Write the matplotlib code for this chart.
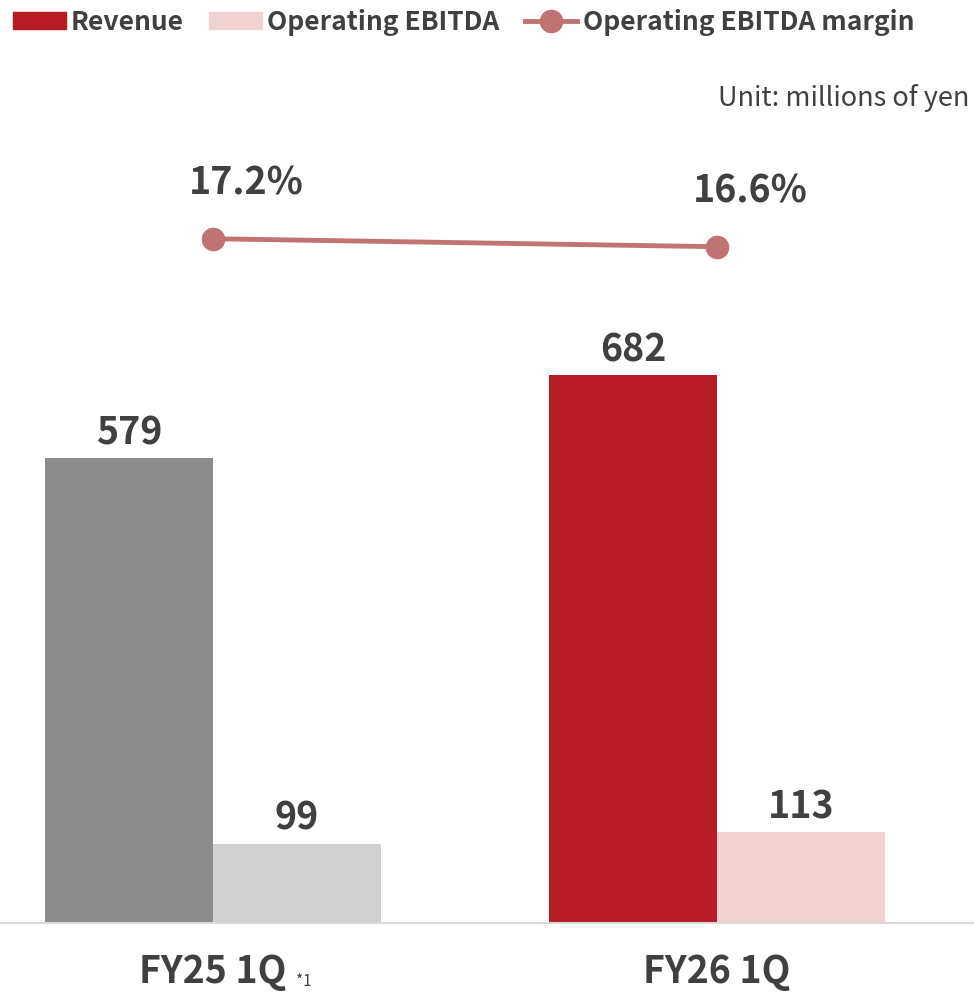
import matplotlib
matplotlib.use('Agg')
from matplotlib import pyplot as plt
from matplotlib.patches import Patch
from matplotlib.lines import Line2D

# data
periods = ['FY25 1Q', 'FY26 1Q']
revenue = [579, 682]
ebitda = [99, 113]
margin = [17.2, 16.6]

plt.rcParams['font.family'] = ['Noto Sans CJK JP', 'DejaVu Sans']
txt = '#404040'
rev_colors = ['#8c8c8c', '#b71c24']
ebt_colors = ['#d0d0d0', '#f0d2d3']
line_col = '#c07373'

fig = plt.figure(figsize=(9.74, 9.96), dpi=100)
ax = fig.add_axes([0, 73 / 996, 1, 863 / 996])

x = list(range(len(periods)))
w = 0.333
bars_r = ax.bar([i - w / 2 for i in x], revenue, width=w, color=rev_colors)
bars_e = ax.bar([i + w / 2 for i in x], ebitda, width=w, color=ebt_colors)

for b, v in zip(list(bars_r) + list(bars_e), revenue + ebitda):
    ax.annotate(str(v), (b.get_x() + b.get_width() / 2, v), xytext=(0, 4),
                textcoords='offset points', ha='center', va='bottom',
                fontsize=27, fontweight='bold', color=txt)

ax.set_xlim(-213 / 504, (974 - 213) / 504)
ax.set_ylim(0, 1075)
for s in ['top', 'left', 'right']:
    ax.spines[s].set_visible(False)
ax.spines['bottom'].set_color('#d9d9d9')
ax.spines['bottom'].set_linewidth(1.5)
ax.set_yticks([])
ax.set_xticks([])

for i, p in enumerate(periods):
    ax.annotate(p, (i, 0), xycoords=('data', 'axes fraction'), xytext=(0, -35),
                textcoords='offset points', ha='center', va='center',
                fontsize=27, fontweight='bold', color=txt)
ax.annotate('*1', (0, 0), xycoords=('data', 'axes fraction'), xytext=(60, -42),
            textcoords='offset points', ha='left', va='center',
            fontsize=11, color=txt)

# margin line on a second axis
ax2 = ax.twinx()
ax2.plot(x, margin, color=line_col, lw=3.5, marker='o', markersize=16)
for i, m in zip(x, margin):
    ax2.annotate(f'{m:.1f}%', (i, m), xytext=(24, 26), textcoords='offset points',
                 ha='center', va='bottom', fontsize=27, fontweight='bold', color=txt)
ax2.set_ylim(-34.1, 30.6)
ax2.set_yticks([])
for s in ['top', 'left', 'right', 'bottom']:
    ax2.spines[s].set_visible(False)

fig.text(969 / 974, 1 - 98 / 996, 'Unit: millions of yen', ha='right', va='center',
         fontsize=19.5, color=txt)

handles = [Patch(color=rev_colors[1]), Patch(color=ebt_colors[1]),
           Line2D([], [], color=line_col, lw=3.5, marker='o', markersize=16)]
fig.legend(handles, ['Revenue', 'Operating EBITDA', 'Operating EBITDA margin'],
           loc='upper left', bbox_to_anchor=(13 / 974, 1 - 9 / 996), ncol=3,
           frameon=False, handlelength=2.0, handleheight=0.6,
           handletextpad=0.2, columnspacing=0.95, borderpad=0, borderaxespad=0,
           prop={'weight': 'bold', 'size': 19}, labelcolor=txt)

fig.savefig('out.png', dpi=100)
